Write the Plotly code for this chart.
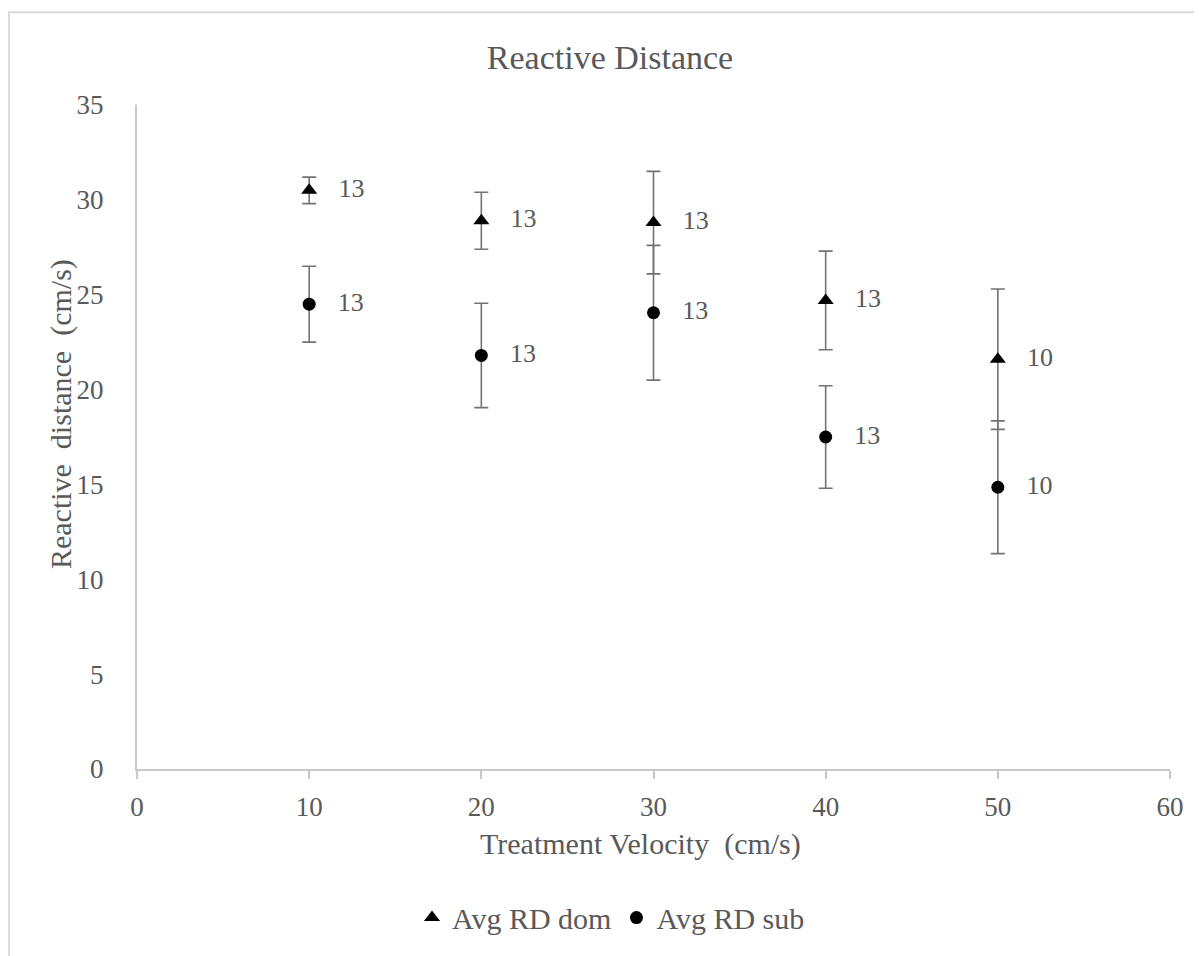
import plotly.graph_objects as go

velocity = [10, 20, 30, 40, 50]
rd_dom = [30.5, 28.9, 28.8, 24.7, 21.6]
rd_dom_err = [0.7, 1.5, 2.7, 2.6, 3.7]
rd_sub = [24.5, 21.8, 24.05, 17.5, 14.85]
rd_sub_err = [2.0, 2.75, 3.55, 2.7, 3.5]
n_dom = ["13", "13", "13", "13", "10"]
n_sub = ["13", "13", "13", "13", "10"]

FONT = "Liberation Serif, Times New Roman, serif"
GREY = "#595959"
ERR = "#737373"
NB = "\u00a0"

# page offset (browser body margin) = 8px
W, H = 1194, 948
L, T = 129, 97
PW, PH = 1033, 666
R = W - L - PW
B = H - T - PH


def px_x(p):  # page pixel x -> paper coord
    return (p - 137) / PW


def px_y(p):  # page pixel y -> paper coord
    return (771 - p) / PH


fig = go.Figure()
fig.add_trace(go.Scatter(
    x=velocity, y=rd_dom, mode="markers+text", name="Avg RD dom",
    marker=dict(symbol="triangle-up", size=14, color="black"),
    error_y=dict(type="data", array=rd_dom_err, visible=True, color=ERR, thickness=1.6, width=7),
    text=[NB * 3 + t for t in n_dom], textposition="middle right",
    textfont=dict(family=FONT, size=26, color=GREY),
))
fig.add_trace(go.Scatter(
    x=velocity, y=rd_sub, mode="markers+text", name="Avg RD sub",
    marker=dict(symbol="circle", size=13, color="black"),
    error_y=dict(type="data", array=rd_sub_err, visible=True, color=ERR, thickness=1.6, width=7),
    text=[NB * 3 + t for t in n_sub], textposition="middle right",
    textfont=dict(family=FONT, size=26, color=GREY),
))

fig.update_layout(
    width=W, height=H,
    margin=dict(l=L, r=R, t=T, b=B),
    paper_bgcolor="white", plot_bgcolor="white",
    font=dict(family=FONT, size=26, color=GREY),
    title=dict(text="Reactive Distance", x=px_x(610), xref="paper", xanchor="center",
               y=1 - 49 / H, yref="container", yanchor="middle",
               font=dict(size=34, color=GREY)),
    xaxis=dict(range=[0, 60], dtick=10, tick0=0, showgrid=False, zeroline=False,
               showline=True, linecolor="#c8c8c8", linewidth=2,
               ticks="outside", ticklen=8, tickcolor="#c8c8c8", tickwidth=2,
               ticklabelstandoff=5,
               tickfont=dict(size=27, color=GREY)),
    yaxis=dict(range=[0, 35], dtick=5, tick0=0, showgrid=False, zeroline=False,
               showline=True, linecolor="#c8c8c8", linewidth=2,
               ticks="", ticklabelstandoff=26,
               tickfont=dict(size=27, color=GREY)),
    legend=dict(orientation="h", x=px_x(611), xanchor="center", y=px_y(920), yanchor="middle",
                font=dict(size=30, color=GREY), bgcolor="rgba(0,0,0,0)"),
    showlegend=True,
)

fig.add_annotation(text="Treatment Velocity" + NB * 2 + "(cm/s)", xref="paper", yref="paper",
                   x=px_x(640), y=px_y(846), xanchor="center", yanchor="middle",
                   showarrow=False, font=dict(size=30, color=GREY))
fig.add_annotation(text="Reactive" + NB * 2 + "distance" + NB * 2 + "(cm/s)", xref="paper", yref="paper",
                   x=px_x(61), y=px_y(415), xanchor="center", yanchor="middle", textangle=-90,
                   showarrow=False, font=dict(size=30, color=GREY))

fig.add_shape(type="rect", xref="paper", yref="paper",
              x0=px_x(9), x1=px_x(1215),
              y0=px_y(975), y1=px_y(12),
              line=dict(color="#d9d9d9", width=2), fillcolor="rgba(0,0,0,0)", layer="below")

fig.write_html("out.html")
